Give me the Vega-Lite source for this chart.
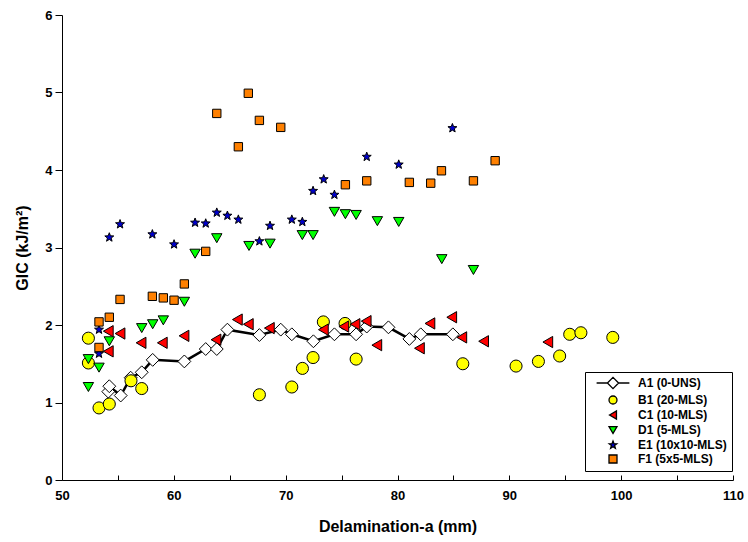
{
  "$schema": "https://vega.github.io/schema/vega-lite/v6.json",
  "width": 671,
  "height": 465,
  "autosize": {"type": "none"},
  "padding": {"left": 62, "top": 15, "right": 15, "bottom": 62},
  "background": "white",
  "config": {
    "view": {"stroke": null},
    "font": "Liberation Sans",
    "axis": {"grid": false, "domainColor": "black", "tickColor": "black", "labelColor": "black", "titleColor": "black", "labelFont": "Liberation Sans", "titleFont": "Liberation Sans", "labelFontWeight": "bold", "titleFontWeight": "bold", "labelFontSize": 13, "titleFontSize": 16}
  },
  "data": {
    "values": [
      {"series": "A1 (0-UNS)", "a": 54.14, "g": 1.14},
      {"series": "A1 (0-UNS)", "a": 54.23, "g": 1.21},
      {"series": "A1 (0-UNS)", "a": 55.25, "g": 1.09},
      {"series": "A1 (0-UNS)", "a": 56.14, "g": 1.32},
      {"series": "A1 (0-UNS)", "a": 57.13, "g": 1.39},
      {"series": "A1 (0-UNS)", "a": 58.11, "g": 1.55},
      {"series": "A1 (0-UNS)", "a": 60.94, "g": 1.53},
      {"series": "A1 (0-UNS)", "a": 62.85, "g": 1.69},
      {"series": "A1 (0-UNS)", "a": 63.84, "g": 1.69},
      {"series": "A1 (0-UNS)", "a": 64.79, "g": 1.94},
      {"series": "A1 (0-UNS)", "a": 67.65, "g": 1.87},
      {"series": "A1 (0-UNS)", "a": 69.56, "g": 1.94},
      {"series": "A1 (0-UNS)", "a": 70.55, "g": 1.88},
      {"series": "A1 (0-UNS)", "a": 72.48, "g": 1.79},
      {"series": "A1 (0-UNS)", "a": 74.36, "g": 1.88},
      {"series": "A1 (0-UNS)", "a": 76.3, "g": 1.88},
      {"series": "A1 (0-UNS)", "a": 77.25, "g": 1.98},
      {"series": "A1 (0-UNS)", "a": 79.19, "g": 1.97},
      {"series": "A1 (0-UNS)", "a": 81.06, "g": 1.82},
      {"series": "A1 (0-UNS)", "a": 82.08, "g": 1.88},
      {"series": "A1 (0-UNS)", "a": 84.95, "g": 1.88},
      {"series": "B1 (20-MLS)", "a": 52.36, "g": 1.83},
      {"series": "B1 (20-MLS)", "a": 52.36, "g": 1.51},
      {"series": "B1 (20-MLS)", "a": 53.31, "g": 0.93},
      {"series": "B1 (20-MLS)", "a": 54.23, "g": 0.98},
      {"series": "B1 (20-MLS)", "a": 56.17, "g": 1.28},
      {"series": "B1 (20-MLS)", "a": 57.13, "g": 1.18},
      {"series": "B1 (20-MLS)", "a": 67.65, "g": 1.1},
      {"series": "B1 (20-MLS)", "a": 70.55, "g": 1.2},
      {"series": "B1 (20-MLS)", "a": 71.5, "g": 1.44},
      {"series": "B1 (20-MLS)", "a": 72.45, "g": 1.58},
      {"series": "B1 (20-MLS)", "a": 73.37, "g": 2.04},
      {"series": "B1 (20-MLS)", "a": 75.31, "g": 2.02},
      {"series": "B1 (20-MLS)", "a": 76.3, "g": 1.56},
      {"series": "B1 (20-MLS)", "a": 85.84, "g": 1.5},
      {"series": "B1 (20-MLS)", "a": 90.6, "g": 1.47},
      {"series": "B1 (20-MLS)", "a": 92.6, "g": 1.53},
      {"series": "B1 (20-MLS)", "a": 94.5, "g": 1.6},
      {"series": "B1 (20-MLS)", "a": 95.4, "g": 1.88},
      {"series": "B1 (20-MLS)", "a": 96.4, "g": 1.9},
      {"series": "B1 (20-MLS)", "a": 99.25, "g": 1.84},
      {"series": "C1 (10-MLS)", "a": 54.14, "g": 1.92},
      {"series": "C1 (10-MLS)", "a": 55.19, "g": 1.89},
      {"series": "C1 (10-MLS)", "a": 54.14, "g": 1.66},
      {"series": "C1 (10-MLS)", "a": 57.07, "g": 1.77},
      {"series": "C1 (10-MLS)", "a": 58.97, "g": 1.77},
      {"series": "C1 (10-MLS)", "a": 60.91, "g": 1.86},
      {"series": "C1 (10-MLS)", "a": 63.77, "g": 1.81},
      {"series": "C1 (10-MLS)", "a": 65.68, "g": 2.07},
      {"series": "C1 (10-MLS)", "a": 66.66, "g": 2.01},
      {"series": "C1 (10-MLS)", "a": 68.54, "g": 1.96},
      {"series": "C1 (10-MLS)", "a": 73.37, "g": 1.94},
      {"series": "C1 (10-MLS)", "a": 75.2, "g": 1.98},
      {"series": "C1 (10-MLS)", "a": 76.2, "g": 2.01},
      {"series": "C1 (10-MLS)", "a": 77.2, "g": 2.05},
      {"series": "C1 (10-MLS)", "a": 78.15, "g": 1.74},
      {"series": "C1 (10-MLS)", "a": 81.96, "g": 1.7},
      {"series": "C1 (10-MLS)", "a": 82.9, "g": 2.02},
      {"series": "C1 (10-MLS)", "a": 84.85, "g": 2.1},
      {"series": "C1 (10-MLS)", "a": 85.75, "g": 1.84},
      {"series": "C1 (10-MLS)", "a": 87.7, "g": 1.79},
      {"series": "C1 (10-MLS)", "a": 93.44, "g": 1.78},
      {"series": "D1 (5-MLS)", "a": 52.36, "g": 1.56},
      {"series": "D1 (5-MLS)", "a": 53.31, "g": 1.45},
      {"series": "D1 (5-MLS)", "a": 52.36, "g": 1.2},
      {"series": "D1 (5-MLS)", "a": 54.23, "g": 1.79},
      {"series": "D1 (5-MLS)", "a": 57.13, "g": 1.96},
      {"series": "D1 (5-MLS)", "a": 58.11, "g": 2.01},
      {"series": "D1 (5-MLS)", "a": 59.06, "g": 2.06},
      {"series": "D1 (5-MLS)", "a": 60.94, "g": 2.3},
      {"series": "D1 (5-MLS)", "a": 61.9, "g": 2.92},
      {"series": "D1 (5-MLS)", "a": 63.84, "g": 3.12},
      {"series": "D1 (5-MLS)", "a": 66.72, "g": 3.02},
      {"series": "D1 (5-MLS)", "a": 68.6, "g": 3.05},
      {"series": "D1 (5-MLS)", "a": 71.49, "g": 3.16},
      {"series": "D1 (5-MLS)", "a": 72.45, "g": 3.16},
      {"series": "D1 (5-MLS)", "a": 74.36, "g": 3.46},
      {"series": "D1 (5-MLS)", "a": 75.34, "g": 3.43},
      {"series": "D1 (5-MLS)", "a": 76.3, "g": 3.42},
      {"series": "D1 (5-MLS)", "a": 78.2, "g": 3.34},
      {"series": "D1 (5-MLS)", "a": 80.11, "g": 3.33},
      {"series": "D1 (5-MLS)", "a": 83.96, "g": 2.85},
      {"series": "D1 (5-MLS)", "a": 86.79, "g": 2.71},
      {"series": "E1 (10x10-MLS)", "a": 53.31, "g": 1.94},
      {"series": "E1 (10x10-MLS)", "a": 53.31, "g": 1.63},
      {"series": "E1 (10x10-MLS)", "a": 54.23, "g": 3.13},
      {"series": "E1 (10x10-MLS)", "a": 55.19, "g": 3.3},
      {"series": "E1 (10x10-MLS)", "a": 58.08, "g": 3.17},
      {"series": "E1 (10x10-MLS)", "a": 60.02, "g": 3.04},
      {"series": "E1 (10x10-MLS)", "a": 61.9, "g": 3.32},
      {"series": "E1 (10x10-MLS)", "a": 62.85, "g": 3.31},
      {"series": "E1 (10x10-MLS)", "a": 63.84, "g": 3.45},
      {"series": "E1 (10x10-MLS)", "a": 64.79, "g": 3.41},
      {"series": "E1 (10x10-MLS)", "a": 65.77, "g": 3.36},
      {"series": "E1 (10x10-MLS)", "a": 67.65, "g": 3.08},
      {"series": "E1 (10x10-MLS)", "a": 68.6, "g": 3.28},
      {"series": "E1 (10x10-MLS)", "a": 70.55, "g": 3.36},
      {"series": "E1 (10x10-MLS)", "a": 71.49, "g": 3.33},
      {"series": "E1 (10x10-MLS)", "a": 72.45, "g": 3.73},
      {"series": "E1 (10x10-MLS)", "a": 73.4, "g": 3.88},
      {"series": "E1 (10x10-MLS)", "a": 74.36, "g": 3.68},
      {"series": "E1 (10x10-MLS)", "a": 77.25, "g": 4.17},
      {"series": "E1 (10x10-MLS)", "a": 80.11, "g": 4.07},
      {"series": "E1 (10x10-MLS)", "a": 84.91, "g": 4.54},
      {"series": "F1 (5x5-MLS)", "a": 53.31, "g": 2.04},
      {"series": "F1 (5x5-MLS)", "a": 54.23, "g": 2.1},
      {"series": "F1 (5x5-MLS)", "a": 53.31, "g": 1.71},
      {"series": "F1 (5x5-MLS)", "a": 55.19, "g": 2.33},
      {"series": "F1 (5x5-MLS)", "a": 58.08, "g": 2.37},
      {"series": "F1 (5x5-MLS)", "a": 59.06, "g": 2.35},
      {"series": "F1 (5x5-MLS)", "a": 60.02, "g": 2.32},
      {"series": "F1 (5x5-MLS)", "a": 60.94, "g": 2.53},
      {"series": "F1 (5x5-MLS)", "a": 62.85, "g": 2.95},
      {"series": "F1 (5x5-MLS)", "a": 63.84, "g": 4.73},
      {"series": "F1 (5x5-MLS)", "a": 65.77, "g": 4.3},
      {"series": "F1 (5x5-MLS)", "a": 66.66, "g": 4.99},
      {"series": "F1 (5x5-MLS)", "a": 67.65, "g": 4.64},
      {"series": "F1 (5x5-MLS)", "a": 69.56, "g": 4.55},
      {"series": "F1 (5x5-MLS)", "a": 75.34, "g": 3.81},
      {"series": "F1 (5x5-MLS)", "a": 77.25, "g": 3.86},
      {"series": "F1 (5x5-MLS)", "a": 81.06, "g": 3.84},
      {"series": "F1 (5x5-MLS)", "a": 82.97, "g": 3.83},
      {"series": "F1 (5x5-MLS)", "a": 83.93, "g": 3.99},
      {"series": "F1 (5x5-MLS)", "a": 86.79, "g": 3.86},
      {"series": "F1 (5x5-MLS)", "a": 88.73, "g": 4.12}
    ]
  },
  "encoding": {
    "x": {
      "field": "a", "type": "quantitative",
      "scale": {"domain": [50, 110], "nice": false, "zero": false},
      "axis": {
        "title": "Delamination-a (mm)",
        "values": [50, 55, 60, 65, 70, 75, 80, 85, 90, 95, 100, 105, 110],
        "labelExpr": "datum.value % 10 === 0 ? datum.label : ''",
        "tickSize": -5, "labelPadding": 14, "titlePadding": 16, "labelFlush": false
      }
    },
    "y": {
      "field": "g", "type": "quantitative",
      "scale": {"domain": [0, 6], "nice": false},
      "axis": {
        "title": "GIC (kJ/m²)",
        "values": [0, 0.5, 1, 1.5, 2, 2.5, 3, 3.5, 4, 4.5, 5, 5.5, 6],
        "format": "d",
        "labelExpr": "datum.value % 1 === 0 ? datum.label : ''",
        "tickSize": {"condition": {"test": "datum.value % 1 === 0", "value": 7}, "value": 4},
        "labelPadding": 3, "titlePadding": 14, "labelFlush": false
      }
    }
  },
  "layer": [
    {
      "transform": [{"filter": "datum.series === 'A1 (0-UNS)'"}],
      "mark": {"type": "line", "color": "black", "strokeWidth": 2.5},
      "encoding": {}
    },
    {
      "mark": {"type": "point", "filled": true, "opacity": 1, "stroke": "black", "strokeWidth": 1},
      "encoding": {
        "shape": {"field": "series", "type": "nominal", "legend": null,
          "scale": {"domain": ["A1 (0-UNS)", "B1 (20-MLS)", "C1 (10-MLS)", "D1 (5-MLS)", "E1 (10x10-MLS)", "F1 (5x5-MLS)"],
            "range": ["diamond", "circle", "triangle-left", "triangle-down", "M0,-1L0.247,-0.34L0.951,-0.309L0.399,0.13L0.588,0.809L0,0.42L-0.588,0.809L-0.399,0.13L-0.951,-0.309L-0.247,-0.34Z", "square"]}},
        "fill": {"field": "series", "type": "nominal", "legend": null,
          "scale": {"domain": ["A1 (0-UNS)", "B1 (20-MLS)", "C1 (10-MLS)", "D1 (5-MLS)", "E1 (10x10-MLS)", "F1 (5x5-MLS)"],
            "range": ["#ffffff", "#ffff00", "#ff0000", "#00ff00", "#0000cc", "#ff8000"]}},
        "size": {"field": "series", "type": "nominal", "legend": null,
          "scale": {"domain": ["A1 (0-UNS)", "B1 (20-MLS)", "C1 (10-MLS)", "D1 (5-MLS)", "E1 (10x10-MLS)", "F1 (5x5-MLS)"],
            "range": [165, 70, 100, 110, 125, 70]}}
      }
    },
    {
      "transform": [{"filter": "datum.a > 1000"}],
      "mark": {"type": "point", "filled": true, "opacity": 1, "stroke": "black", "strokeWidth": 1.3},
      "encoding": {
        "shape": {"field": "series", "type": "nominal",
          "scale": {"domain": ["A1 (0-UNS)", "B1 (20-MLS)", "C1 (10-MLS)", "D1 (5-MLS)", "E1 (10x10-MLS)", "F1 (5x5-MLS)"],
            "range": ["M-4.1,0L-1.4,0L0,-1.4L1.4,0L4.1,0L1.4,0L0,1.4L-1.4,0Z", "circle", "triangle-left", "triangle-down", "M0,-1L0.247,-0.34L0.951,-0.309L0.399,0.13L0.588,0.809L0,0.42L-0.588,0.809L-0.399,0.13L-0.951,-0.309L-0.247,-0.34Z", "square"]},
          "legend": {
            "title": null, "orient": "none", "legendX": 523, "legendY": 357,
            "strokeColor": "black", "fillColor": "white", "padding": 5,
            "symbolSize": 64, "symbolOffset": 17, "labelOffset": 19, "rowPadding": 1,
            "labelFont": "Liberation Sans", "labelFontWeight": "bold", "labelFontSize": 12, "labelColor": "black",
            "symbolStrokeWidth": 1.3, "labelLimit": 200
          }},
        "fill": {"field": "series", "type": "nominal",
          "scale": {"domain": ["A1 (0-UNS)", "B1 (20-MLS)", "C1 (10-MLS)", "D1 (5-MLS)", "E1 (10x10-MLS)", "F1 (5x5-MLS)"],
            "range": ["#ffffff", "#ffff00", "#ff0000", "#00ff00", "#0000cc", "#ff8000"]}}
      }
    }
  ],
  "resolve": {"scale": {"shape": "independent", "fill": "independent", "size": "independent"}}
}
